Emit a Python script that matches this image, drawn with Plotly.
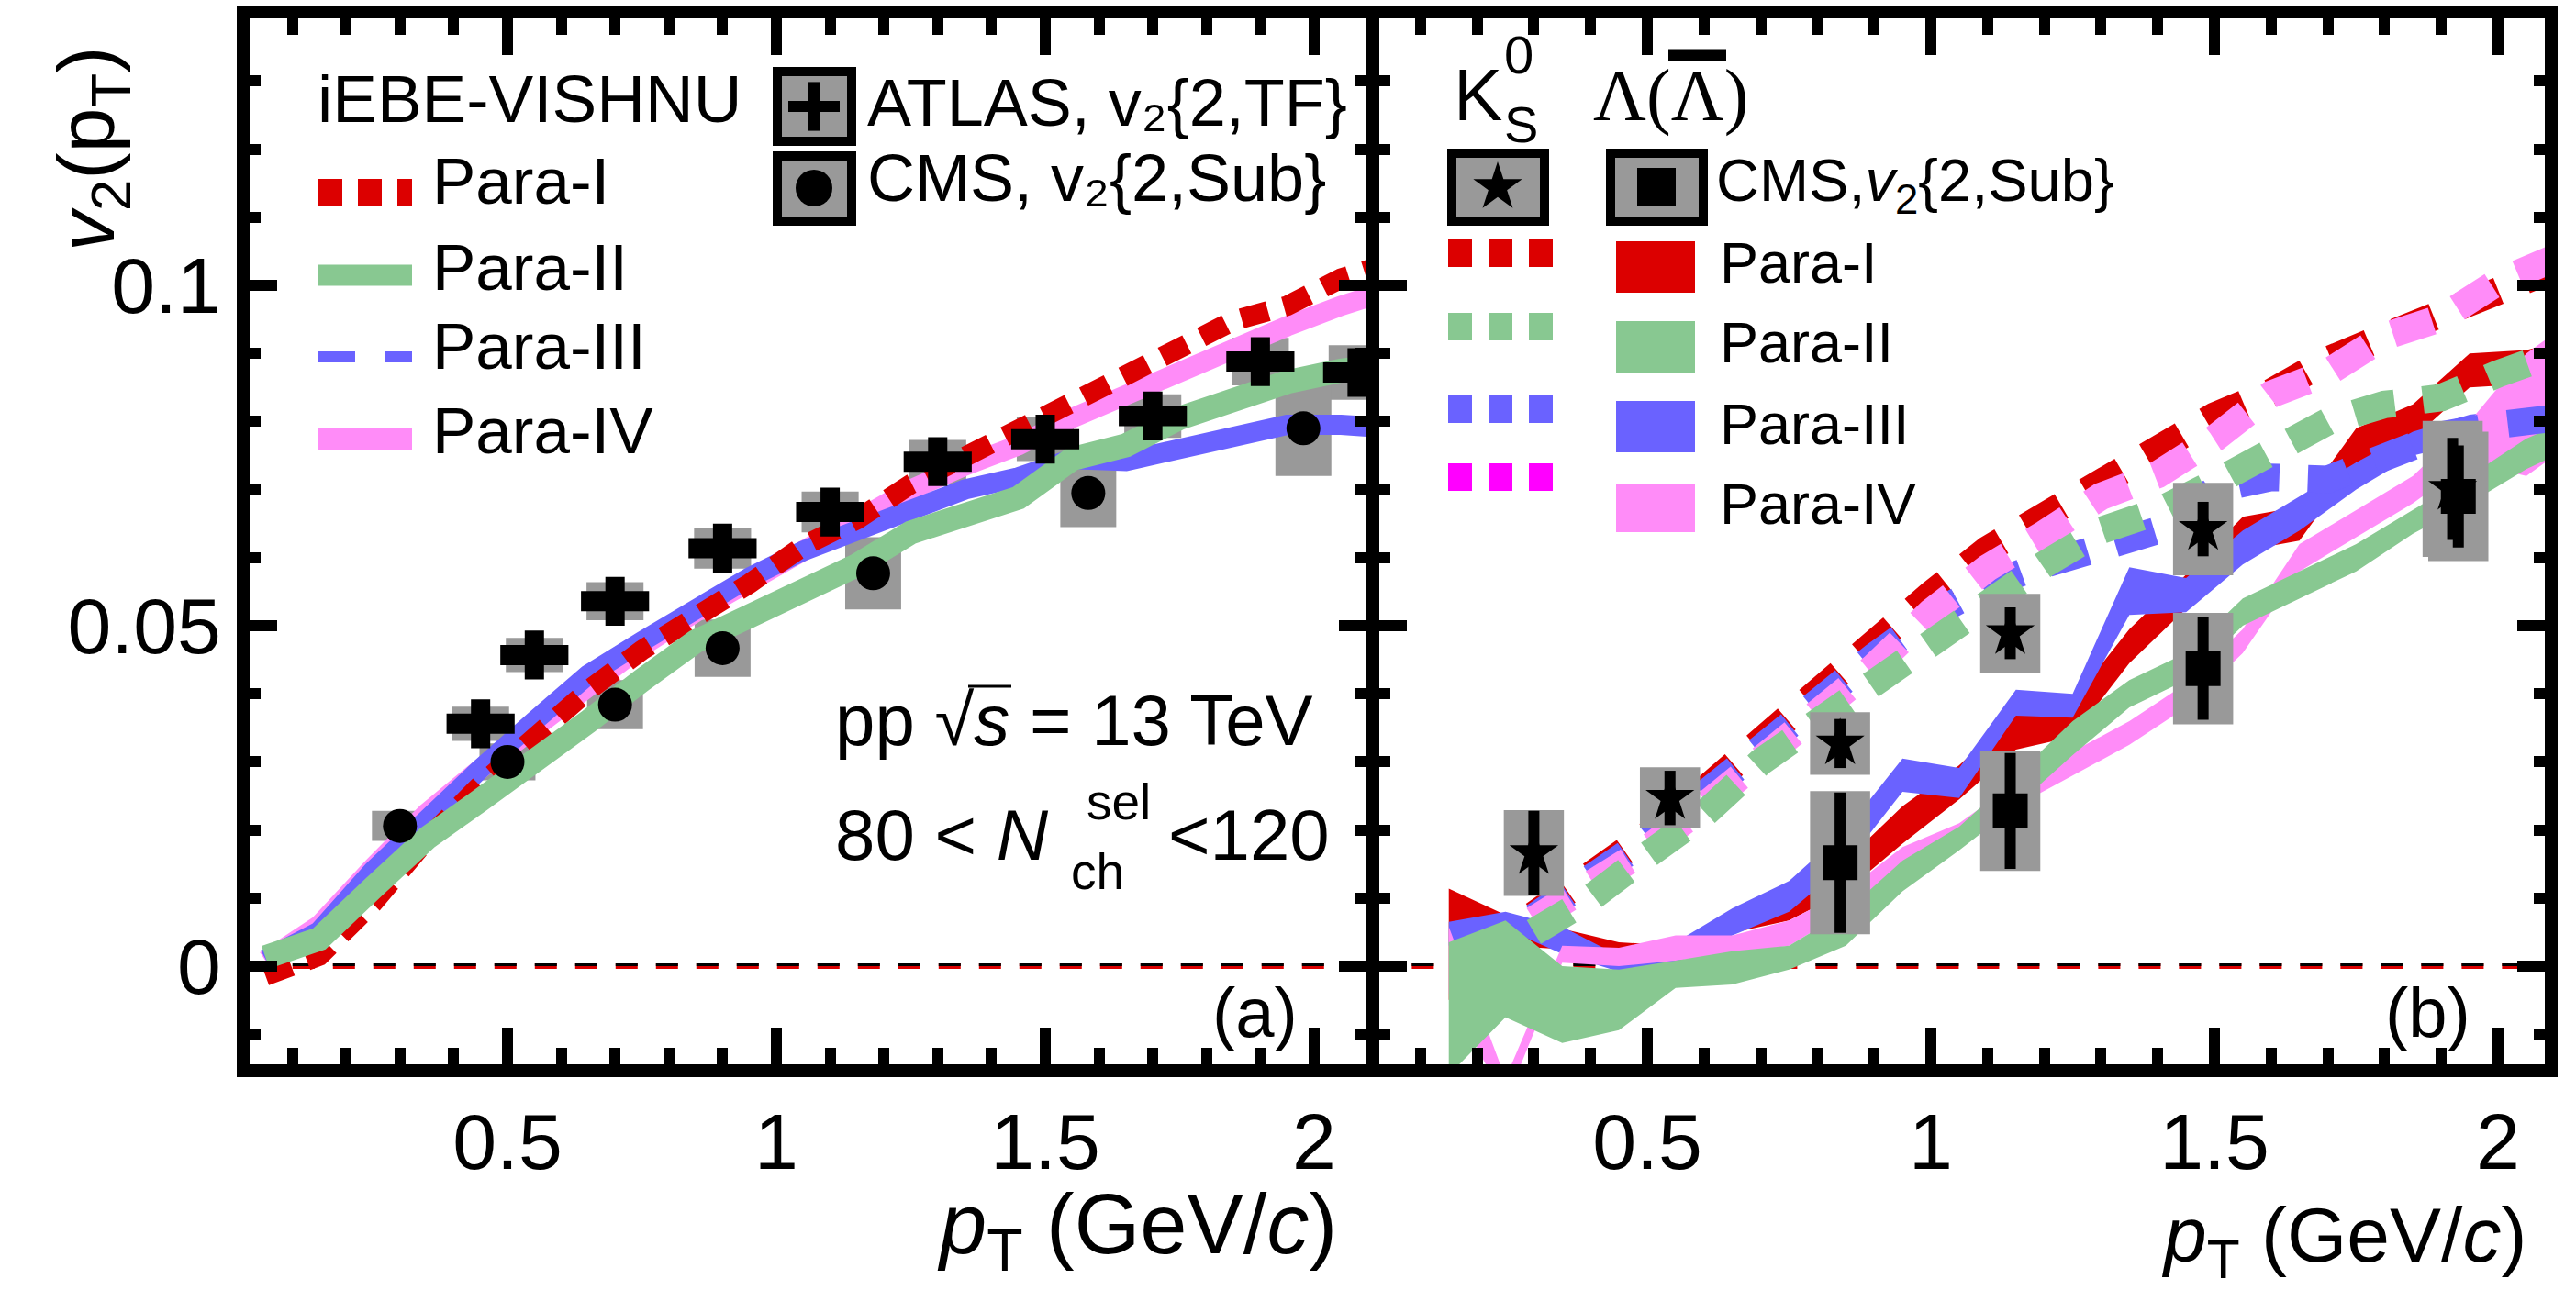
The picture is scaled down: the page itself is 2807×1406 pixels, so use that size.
import plotly.graph_objects as go

W, H = 2807, 1406

# ---------------- Panel (a): charged hadrons ----------------
pt_model_a = [0.05, 0.15, 0.25, 0.35, 0.45, 0.55, 0.65, 0.75, 0.85, 0.95, 1.05,
              1.15, 1.25, 1.35, 1.45, 1.55, 1.65, 1.75, 1.85, 1.95, 2.05, 2.15]
v2_para1_a = [-0.0014, 0.0015, 0.0093, 0.0186, 0.0266, 0.0335, 0.0405, 0.0464, 0.0511, 0.0562, 0.0617,
              0.0656, 0.0708, 0.0747, 0.0785, 0.0829, 0.0863, 0.0902, 0.0948, 0.0970, 0.1010, 0.1035]
v2_para2_a = [0.0013, 0.0040, 0.0115, 0.0188, 0.0244, 0.0299, 0.0359, 0.0420, 0.0477, 0.0514, 0.0549,
              0.0589, 0.0637, 0.0660, 0.0688, 0.0745, 0.0765, 0.0805, 0.0833, 0.0858, 0.0875, 0.0885]
v2_para3_a = [0.0010, 0.0051, 0.0140, 0.0219, 0.0290, 0.0360, 0.0428, 0.0477, 0.0525, 0.0571, 0.0610,
              0.0640, 0.0672, 0.0700, 0.0718, 0.0745, 0.0742, 0.0762, 0.0778, 0.0795, 0.0795, 0.0790]
v2_para4_a = [0.0008, 0.0060, 0.0145, 0.0225, 0.0290, 0.0350, 0.0415, 0.0470, 0.0520, 0.0565, 0.0615,
              0.0655, 0.0700, 0.0735, 0.0765, 0.0805, 0.0840, 0.0870, 0.0910, 0.0940, 0.0970, 0.0995]

atlas_pt = [0.45, 0.55, 0.70, 0.90, 1.10, 1.30, 1.50, 1.70, 1.90, 2.08]
atlas_v2 = [0.0356, 0.0457, 0.0536, 0.0614, 0.0667, 0.0741, 0.0774, 0.0808, 0.0888, 0.0872]
atlas_sys = [0.0025, 0.0025, 0.0028, 0.0030, 0.0030, 0.0032, 0.0032, 0.0032, 0.0035, 0.0040]

cms_pt = [0.30, 0.50, 0.70, 0.90, 1.18, 1.58, 1.98]
cms_v2 = [0.0206, 0.0300, 0.0384, 0.0467, 0.0577, 0.0695, 0.0790]
cms_sys = [0.0022, 0.0027, 0.0036, 0.0042, 0.0053, 0.0050, 0.0070]

# ---------------- Panel (b): identified hadrons ----------------
pt_k0s_model = [0.3, 0.4, 0.5, 0.6, 0.7, 0.8, 0.9, 1.0, 1.1, 1.2, 1.3, 1.4, 1.5, 1.6, 1.7, 1.8, 1.9, 2.0, 2.1]
k0s_para1 = [0.0075, 0.0128, 0.0192, 0.0258, 0.0333, 0.0404, 0.0478, 0.0546, 0.0612, 0.0662, 0.0715,
             0.0763, 0.0808, 0.0843, 0.0890, 0.0925, 0.0955, 0.0990, 0.1025]
k0s_para2 = [0.0050, 0.0100, 0.0163, 0.0223, 0.0300, 0.0360, 0.0420, 0.0478, 0.0535, 0.0590, 0.0640,
             0.0668, 0.0710, 0.0752, 0.0800, 0.0825, 0.0835, 0.0870, 0.0900]
k0s_para3 = [0.0072, 0.0124, 0.0186, 0.0252, 0.0322, 0.0395, 0.0455, 0.0515, 0.0560, 0.0590, 0.0615,
             0.0640, 0.0700, 0.0718, 0.0715, 0.0745, 0.0780, 0.0795, 0.0805]
k0s_para4 = [0.0068, 0.0115, 0.0172, 0.0235, 0.0300, 0.0370, 0.0440, 0.0520, 0.0585, 0.0635, 0.0690,
             0.0722, 0.0775, 0.0840, 0.0872, 0.0925, 0.0952, 0.1005, 0.1040]

pt_lam_model = [0.15, 0.25, 0.35, 0.45, 0.55, 0.65, 0.75, 0.85, 0.95, 1.05, 1.15,
                1.25, 1.35, 1.45, 1.55, 1.65, 1.75, 1.85, 1.95, 2.05, 2.15]
lam_para1_lo = [-0.0050, 0.0030, 0.0025, 0.0008, 0.0004, 0.0049, 0.0067, 0.0110, 0.0180, 0.0245, 0.0318,
                0.0337, 0.0445, 0.0525, 0.0610, 0.0625, 0.0740, 0.0775, 0.0850, 0.0855, 0.0875]
lam_para1_hi = [0.0114, 0.0075, 0.0055, 0.0035, 0.0030, 0.0082, 0.0108, 0.0155, 0.0235, 0.0295, 0.0372,
                0.0390, 0.0495, 0.0575, 0.0660, 0.0675, 0.0790, 0.0825, 0.0900, 0.0905, 0.0925]
lam_para2_lo = [-0.0160, -0.0075, -0.0113, -0.0094, -0.0032, -0.0027, -0.0005, 0.0030, 0.0110, 0.0170, 0.0235,
                0.0310, 0.0380, 0.0420, 0.0500, 0.0540, 0.0580, 0.0635, 0.0680, 0.0730, 0.0770]
lam_para2_hi = [0.0035, 0.0067, 0.0000, -0.0005, 0.0008, 0.0022, 0.0030, 0.0080, 0.0155, 0.0205, 0.0280,
                0.0360, 0.0420, 0.0460, 0.0540, 0.0580, 0.0620, 0.0670, 0.0720, 0.0775, 0.0810]
lam_para3_lo = [0.0030, 0.0055, 0.0018, -0.0008, 0.0005, 0.0045, 0.0080, 0.0150, 0.0256, 0.0247, 0.0368,
                0.0365, 0.0516, 0.0520, 0.0590, 0.0640, 0.0700, 0.0750, 0.0770, 0.0780, 0.0790]
lam_para3_hi = [0.0065, 0.0080, 0.0058, 0.0015, 0.0035, 0.0085, 0.0125, 0.0200, 0.0305, 0.0291, 0.0406,
                0.0400, 0.0586, 0.0570, 0.0640, 0.0690, 0.0740, 0.0785, 0.0810, 0.0820, 0.0830]
lam_para4_lo = [-0.0040, -0.0200, 0.0005, 0.0000, 0.0008, 0.0018, 0.0030, 0.0080, 0.0140, 0.0175, 0.0235,
                0.0280, 0.0325, 0.0380, 0.0460, 0.0580, 0.0630, 0.0680, 0.0740, 0.0720, 0.0780]
lam_para4_hi = [0.0058, -0.0165, 0.0030, 0.0027, 0.0045, 0.0045, 0.0067, 0.0110, 0.0175, 0.0210, 0.0270,
                0.0315, 0.0360, 0.0415, 0.0495, 0.0620, 0.0670, 0.0720, 0.0800, 0.0900, 0.0960]

cms_k0s_pt = [0.30, 0.54, 0.84, 1.14, 1.48, 1.92]
cms_k0s_v2 = [0.0166, 0.0247, 0.0327, 0.0489, 0.0642, 0.0701]
cms_k0s_stat = [0.0062, 0.0040, 0.0036, 0.0038, 0.0040, 0.0075]
cms_k0s_sys = [0.0063, 0.0045, 0.0046, 0.0058, 0.0068, 0.0100]

cms_lam_pt = [0.84, 1.14, 1.48, 1.93]
cms_lam_v2 = [0.0152, 0.0228, 0.0437, 0.0690]
cms_lam_stat = [0.0103, 0.0085, 0.0075, 0.0075]
cms_lam_sys = [0.0105, 0.0088, 0.0082, 0.0095]

para_labels = ["Para-I", "Para-II", "Para-III", "Para-IV"]

# ---------------- styling ----------------
RED = '#dc0000'
GREEN = '#88c891'
BLUE = '#6a62ff'
PINK = '#ff8cf8'
MAGENTA = '#ff00ff'
GRAY = '#999999'
FONT = 'Liberation Sans, Arial, sans-serif'


def px(x):
    return x / W


def py(y):
    return 1 - y / H


def box_xy(xs, ys, errs, hw):
    X, Y = [], []
    for x, y, e in zip(xs, ys, errs):
        X += [x - hw, x + hw, x + hw, x - hw, x - hw, None]
        Y += [y - e, y - e, y + e, y + e, y - e, None]
    return X, Y


fig = go.Figure()

# zero reference lines
for xa, ya in (('x', 'y'), ('x2', 'y2')):
    fig.add_trace(go.Scatter(x=[-0.2, 2.3], y=[0, 0], xaxis=xa, yaxis=ya, mode='lines',
                             line=dict(color=RED, width=6, dash='24px,20px'), hoverinfo='skip'))
    fig.add_trace(go.Scatter(x=[-0.2, 2.3], y=[0.0002, 0.0002], xaxis=xa, yaxis=ya, mode='lines',
                             line=dict(color='black', width=3, dash='24px,20px'), hoverinfo='skip'))

# ---- panel (a) ----
bx, by = box_xy(atlas_pt, atlas_v2, atlas_sys, 0.053)
fig.add_trace(go.Scatter(x=bx, y=by, mode='lines', fill='toself', fillcolor=GRAY,
                         line=dict(width=0), xaxis='x', yaxis='y'))
bx, by = box_xy(cms_pt, cms_v2, cms_sys, 0.052)
fig.add_trace(go.Scatter(x=bx, y=by, mode='lines', fill='toself', fillcolor=GRAY,
                         line=dict(width=0), xaxis='x', yaxis='y'))

fig.add_trace(go.Scatter(x=pt_model_a, y=v2_para4_a, mode='lines', line=dict(color=PINK, width=22),
                         xaxis='x', yaxis='y'))
fig.add_trace(go.Scatter(x=pt_model_a, y=v2_para3_a, mode='lines', line=dict(color=BLUE, width=22),
                         xaxis='x', yaxis='y'))
fig.add_trace(go.Scatter(x=pt_model_a, y=v2_para1_a, mode='lines',
                         line=dict(color=RED, width=22, dash='30px,18px'), xaxis='x', yaxis='y'))
fig.add_trace(go.Scatter(x=pt_model_a, y=v2_para2_a, mode='lines', line=dict(color=GREEN, width=26),
                         xaxis='x', yaxis='y'))

# ATLAS crosses (horizontal + vertical bars)
fig.add_trace(go.Scatter(x=atlas_pt, y=atlas_v2, mode='markers', xaxis='x', yaxis='y',
                         marker=dict(symbol='line-ew', size=53, line=dict(color='black', width=22))))
fig.add_trace(go.Scatter(x=atlas_pt, y=atlas_v2, mode='markers', xaxis='x', yaxis='y',
                         marker=dict(symbol='line-ns', size=38, line=dict(color='black', width=21))))
fig.add_trace(go.Scatter(x=cms_pt, y=cms_v2, mode='markers', xaxis='x', yaxis='y',
                         marker=dict(symbol='circle', size=37, color='black', line=dict(width=0))))

# ---- panel (b) ----
lam_bands = [(lam_para1_lo, lam_para1_hi, RED), (lam_para3_lo, lam_para3_hi, BLUE),
             (lam_para4_lo, lam_para4_hi, PINK), (lam_para2_lo, lam_para2_hi, GREEN)]
for lo, hi, col in lam_bands:
    fig.add_trace(go.Scatter(x=pt_lam_model + pt_lam_model[::-1], y=hi + lo[::-1], mode='lines',
                             fill='toself', fillcolor=col, line=dict(width=0, color=col),
                             xaxis='x2', yaxis='y2'))
k0s_lines = [(k0s_para1, RED), (k0s_para3, BLUE), (k0s_para4, PINK), (k0s_para2, GREEN)]
for vals, col in k0s_lines:
    fig.add_trace(go.Scatter(x=pt_k0s_model, y=vals, mode='lines',
                             line=dict(color=col, width=30, dash='45px,31px'), xaxis='x2', yaxis='y2'))

bx, by = box_xy(cms_k0s_pt, cms_k0s_v2, cms_k0s_sys, 0.053)
fig.add_trace(go.Scatter(x=bx, y=by, mode='lines', fill='toself', fillcolor=GRAY,
                         line=dict(width=0), xaxis='x2', yaxis='y2'))
bx, by = box_xy(cms_lam_pt, cms_lam_v2, cms_lam_sys, 0.053)
fig.add_trace(go.Scatter(x=bx, y=by, mode='lines', fill='toself', fillcolor=GRAY,
                         line=dict(width=0), xaxis='x2', yaxis='y2'))
fig.add_trace(go.Scatter(x=cms_k0s_pt, y=cms_k0s_v2, mode='markers', xaxis='x2', yaxis='y2',
                         error_y=dict(type='data', array=cms_k0s_stat, color='black', thickness=12, width=0),
                         marker=dict(symbol='star', size=40, color='black', line=dict(width=0))))
fig.add_trace(go.Scatter(x=cms_lam_pt, y=cms_lam_v2, mode='markers', xaxis='x2', yaxis='y2',
                         error_y=dict(type='data', array=cms_lam_stat, color='black', thickness=12, width=0),
                         marker=dict(symbol='square', size=38, color='black', line=dict(width=0))))

# ---- legend symbols (pixel overlay) ----
fig.add_trace(go.Scatter(x=[887], y=[116], mode='markers', xaxis='x3', yaxis='y3',
                         marker=dict(symbol='line-ew', size=40, line=dict(color='black', width=12))))
fig.add_trace(go.Scatter(x=[887], y=[116], mode='markers', xaxis='x3', yaxis='y3',
                         marker=dict(symbol='line-ns', size=38, line=dict(color='black', width=12))))
fig.add_trace(go.Scatter(x=[887], y=[205], mode='markers', xaxis='x3', yaxis='y3',
                         marker=dict(symbol='circle', size=40, color='black', line=dict(width=0))))
fig.add_trace(go.Scatter(x=[1632], y=[204], mode='markers', xaxis='x3', yaxis='y3',
                         marker=dict(symbol='star', size=40, color='black', line=dict(width=0))))
fig.add_trace(go.Scatter(x=[1805], y=[204], mode='markers', xaxis='x3', yaxis='y3',
                         marker=dict(symbol='square', size=42, color='black', line=dict(width=0))))

shapes = []


def pline(x0, y0, x1, y1, color, width, dash='solid'):
    shapes.append(dict(type='line', xref='x3', yref='y3', x0=x0, y0=y0, x1=x1, y1=y1,
                       line=dict(color=color, width=width, dash=dash), layer='above'))


def prect(x0, y0, x1, y1, fill, lcolor=None, lwidth=0, layer='above'):
    shapes.append(dict(type='rect', xref='x3', yref='y3', x0=x0, y0=y0, x1=x1, y1=y1,
                       fillcolor=fill, line=dict(color=lcolor or fill, width=lwidth), layer=layer))


# left legend samples
pline(347, 210, 449, 210, RED, 30, '26px,17px')
pline(347, 300, 449, 300, GREEN, 23)
pline(347, 389, 449, 389, BLUE, 12, '40px,32px')
pline(347, 479, 449, 479, PINK, 24)
# data legend boxes (below the legend markers)
prect(847, 78, 928, 154, GRAY, 'black', 10, 'below')
prect(847, 170, 928, 241, GRAY, 'black', 10, 'below')
prect(1582, 167, 1683, 241, GRAY, 'black', 10, 'below')
prect(1755, 167, 1856, 241, GRAY, 'black', 10, 'below')
# right legend samples
for yc, col in zip([276, 356, 446, 520], [RED, GREEN, BLUE, MAGENTA]):
    pline(1578, yc, 1692, yc, col, 30, '26px,18px')
for (y0, y1), col in zip([(263, 319), (350, 406), (437, 493), (527, 580)], [RED, GREEN, BLUE, PINK]):
    prect(1761, y0, 1847, y1, col)
# overbar of anti-Lambda and sqrt overline
pline(1818, 60, 1881, 60, 'black', 13)
pline(1055, 748, 1102, 748, 'black', 3)

annotations = []


def ann(x, y, text, size, xanchor='left', yanchor='middle', family=FONT, angle=0):
    annotations.append(dict(x=px(x), y=py(y), xref='paper', yref='paper', text=text, showarrow=False,
                            xanchor=xanchor, yanchor=yanchor, textangle=angle,
                            font=dict(family=family, size=size, color='black')))


ann(344, 108, 'iEBE-VISHNU', 73)
for lab, yc in zip(para_labels, [198, 292, 378, 469]):
    ann(469, yc, lab, 71)
ann(943, 112, 'ATLAS, v₂{2,TF}', 72)
ann(943, 194, 'CMS, v₂{2,Sub}', 72)
ann(908, 785, 'pp √<i>s</i> = 13 TeV', 78)
ann(908, 910, '80 &lt; <i>N</i>', 78)
ann(1182, 874, 'sel', 55)
ann(1165, 950, 'ch', 55)
ann(1271, 910, '&lt;120', 78)
ann(1367, 1103, '(a)', 76, xanchor='center')
ann(1459, 1341, '<i>p</i><sub>T</sub> (GeV/<i>c</i>)', 92, xanchor='right')
ann(100, 163, '<i>v</i><sub>2</sub>(p<sub>T</sub>)', 88, xanchor='center', angle=-90)

ann(1582, 103, 'K', 80)
ann(1637, 60, '0', 58)
ann(1637, 136, 'S', 56)
ann(1734, 105, 'Λ(Λ)', 80, family='Liberation Serif, serif')
ann(1868, 202, 'CMS,<i>v</i><sub>2</sub>{2,Sub}', 65)
for lab, yc in zip(para_labels, [286, 373, 462, 549]):
    ann(1872, yc, lab, 63)
ann(2645, 1103, '(b)', 76, xanchor='center')
ann(2755, 1352, '<i>p</i><sub>T</sub> (GeV/<i>c</i>)', 84, xanchor='right')

tickfont = dict(family=FONT, size=86, color='black')
xcommon = dict(showline=True, linewidth=14, linecolor='black', mirror='allticks', ticks='inside',
               ticklen=40, tickwidth=12, tickcolor='black', tickmode='linear', tick0=0, dtick=0.5,
               minor=dict(ticks='inside', ticklen=18, tickwidth=12, tickcolor='black', tickmode='linear',
                          tick0=0, dtick=0.1, showgrid=False),
               showgrid=False, zeroline=False, tickfont=tickfont, fixedrange=True, ticklabelstandoff=-3)
ycommon = dict(showline=True, linewidth=14, linecolor='black', mirror='allticks', ticks='inside',
               ticklen=30, tickwidth=12, tickcolor='black', tickmode='linear', tick0=0, dtick=0.05,
               minor=dict(ticks='inside', ticklen=12, tickwidth=12, tickcolor='black', tickmode='linear',
                          tick0=0, dtick=0.01, showgrid=False),
               showgrid=False, zeroline=False, tickfont=tickfont, fixedrange=True)
yrange = [-0.01442, 0.13922]
ydom = [py(1160), py(20)]

fig.update_layout(
    width=W, height=H, autosize=False,
    margin=dict(l=0, r=0, t=0, b=0),
    paper_bgcolor='white', plot_bgcolor='rgba(0,0,0,0)',
    showlegend=False,
    xaxis=dict(**xcommon, domain=[px(272), px(1489)], range=[0.0205, 2.0973], anchor='y'),
    yaxis=dict(**ycommon, domain=ydom, range=yrange, anchor='x'),
    xaxis2=dict(**xcommon, domain=[px(1503), px(2773)], range=[0.0275, 2.0825], anchor='y2'),
    yaxis2=dict(**ycommon, domain=ydom, range=yrange, anchor='x2', showticklabels=False),
    xaxis3=dict(domain=[0, 1], range=[0, W], visible=False, anchor='y3', fixedrange=True),
    yaxis3=dict(domain=[0, 1], range=[H, 0], visible=False, anchor='x3', fixedrange=True),
    shapes=shapes,
    annotations=annotations,
)

fig.write_html("out.html")
